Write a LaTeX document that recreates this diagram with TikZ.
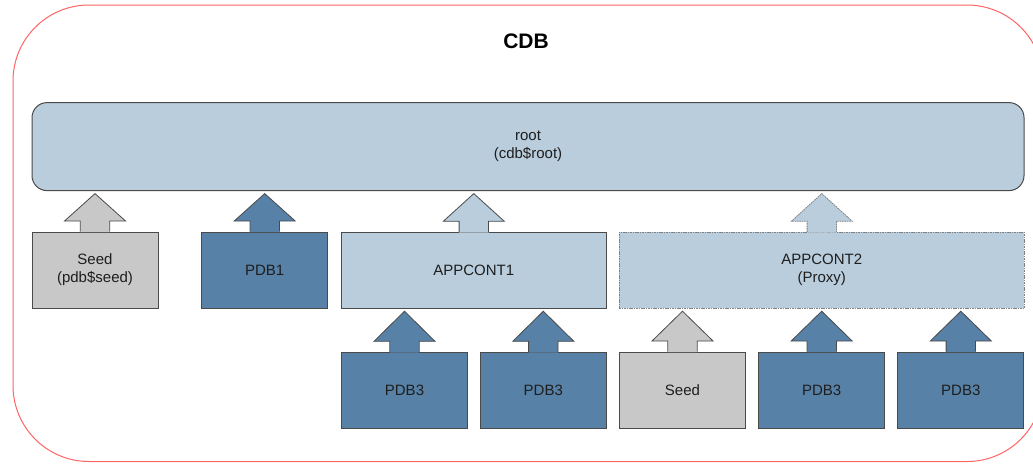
\documentclass[tikz,border=0pt]{standalone}
\usepackage{fontspec}
\setmainfont{Liberation Sans}
\usetikzlibrary{calc}

\definecolor{rootfill}{HTML}{B9CDDD}
\definecolor{pdbfill}{HTML}{5781A6}
\definecolor{seedfill}{HTML}{C8C8C8}
\definecolor{edgegray}{HTML}{4A4A4A}
\definecolor{cdbred}{HTML}{FF6464}
\definecolor{txt}{HTML}{1E1E1E}

% Block arrow rising from the top of box #2 to the underside of node #3
\newcommand\riseto[4][]{%
  \fill[#4]
    ($(#2.north)+(-14.7,0.6)$) -- ($(#2.north)+(-14.7,-10.6)$) --
    ($(#2.north)+(-30.5,-10.6)$) -- ($(#2.north |- #3.south)+(0,2.5)$) --
    ($(#2.north)+(30.5,-10.6)$) -- ($(#2.north)+(14.7,-10.6)$) --
    ($(#2.north)+(14.7,0.6)$) -- cycle;
  \draw[edgegray, line width=0.8pt, line join=miter, #1]
    ($(#2.north)+(-14.7,0)$) -- ($(#2.north)+(-14.7,-10.6)$) --
    ($(#2.north)+(-30.5,-10.6)$) -- ($(#2.north |- #3.south)+(0,2.5)$) --
    ($(#2.north)+(30.5,-10.6)$) -- ($(#2.north)+(14.7,-10.6)$) --
    ($(#2.north)+(14.7,0)$);
}

\begin{document}
\begin{tikzpicture}[x=1pt, y=-1pt,
  lbl/.style={font=\fontsize{15}{18}\selectfont, text=txt, align=center},
  box/.style={lbl, rectangle, draw=edgegray, line width=0.8pt, inner sep=0pt,
              minimum width=126, minimum height=76},
  pdbbox/.style={box, fill=pdbfill},
  seedbox/.style={box, fill=seedfill},
  appbox/.style={box, fill=rootfill, minimum height=76},
  proxy/.style={dash pattern=on 1.6pt off 0.8pt, draw=gray},
]
\useasboundingbox (0,0) rectangle (1033,463);
\clip (0,0) rectangle (1033,463);

% container outline
\draw[cdbred, line width=1pt, rounded corners=76] (13,5) rectangle (1043,461.5);
\node[font=\bfseries\fontsize{21}{25}\selectfont, text=black] (cdb) at (526,41) {CDB};

% root container
\node[lbl, rectangle, draw=edgegray, fill=rootfill, line width=1pt,
      rounded corners=15, minimum width=992, minimum height=88, inner sep=0pt]
  (root) at (528,146.6) {root\\(cdb\$root)};

% first level
\node[seedbox] (seed1) at (95,270) {Seed\\(pdb\$seed)};
\node[pdbbox]  (pdb1)  at (264.7,270) {PDB1};
\node[appbox, minimum width=264.3] (app1) at (473.8,270.3) {APPCONT1};
\node[appbox, proxy, minimum width=405] (app2) at (821.8,270.3) {APPCONT2\\(Proxy)};

% second level
\node[pdbbox]  (pdb3a) at (404.5,390.3) {PDB3};
\node[pdbbox]  (pdb3b) at (543.3,390.3) {PDB3};
\node[seedbox] (seed2) at (682.5,390) {Seed};
\node[pdbbox]  (pdb3c) at (821.7,390) {PDB3};
\node[pdbbox]  (pdb3d) at (960.8,390) {PDB3};

% plug-in arrows
\riseto{seed1}{root}{seedfill}
\riseto{pdb1}{root}{pdbfill}
\riseto{app1}{root}{rootfill}
\riseto[proxy]{app2}{root}{rootfill}
\riseto{pdb3a}{app1}{pdbfill}
\riseto{pdb3b}{app1}{pdbfill}
\riseto{seed2}{app2}{seedfill}
\riseto{pdb3c}{app2}{pdbfill}
\riseto{pdb3d}{app2}{pdbfill}
\end{tikzpicture}
\end{document}
